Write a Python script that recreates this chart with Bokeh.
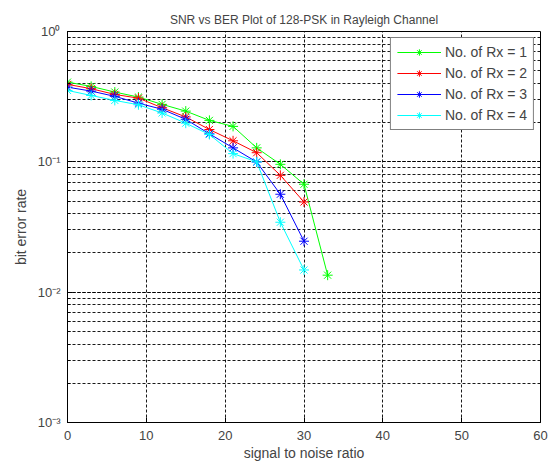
from bokeh.plotting import figure
from bokeh.models import SingleIntervalTicker, LogTicker, Legend, LegendItem, Range1d
from bokeh.embed import file_html
from bokeh.resources import INLINE

snr = [0, 3, 6, 9, 12, 15, 18, 21, 24, 27, 30, 33]
ber_rx1 = [0.409, 0.379, 0.343, 0.314, 0.276, 0.245, 0.208, 0.187, 0.128, 0.0957, 0.0673, 0.0135]
ber_rx2 = [0.393, 0.364, 0.329, 0.308, 0.260, 0.221, 0.177, 0.145, 0.1175, 0.0788, 0.0492]
ber_rx3 = [0.374, 0.349, 0.318, 0.282, 0.253, 0.212, 0.164, 0.128, 0.0997, 0.0564, 0.0246]
ber_rx4 = [0.353, 0.323, 0.296, 0.274, 0.237, 0.198, 0.162, 0.1156, 0.100, 0.0344, 0.0148]
series_labels = ["No. of Rx = 1", "No. of Rx = 2", "No. of Rx = 3", "No. of Rx = 4"]
series_colors = ["#00ff00", "#ff0000", "#0000ff", "#00ffff"]
y_tick_labels = {1: "10⁰", 0.1: "10⁻¹", 0.01: "10⁻²", 0.001: "10⁻³"}

FONT = "Liberation Sans"

p = figure(width=555, height=465, y_axis_type="log",
           x_range=Range1d(0, 60), y_range=Range1d(1e-3, 1),
           output_backend="svg", toolbar_location=None,
           title="SNR vs BER Plot of 128-PSK in Rayleigh Channel",
           min_border_left=67, min_border_right=15, min_border_top=31, min_border_bottom=43)

p.title.align = "center"
p.title.vertical_align = "top"
p.title.text_font = FONT
p.title.text_font_style = "normal"
p.title.text_font_size = "12px"
p.title.offset = 0
p.title.standoff = 6

p.outline_line_color = "black"
p.outline_line_width = 1
p.background_fill_color = "white"
p.border_fill_color = "white"

p.xaxis.ticker = SingleIntervalTicker(interval=10, num_minor_ticks=0)
p.xaxis.axis_label = "signal to noise ratio"
p.yaxis.axis_label = "bit error rate"
p.yaxis.ticker = LogTicker(desired_num_ticks=4, num_minor_ticks=10)
p.yaxis.major_label_overrides = y_tick_labels

for ax in (p.xaxis[0], p.yaxis[0]):
    ax.axis_label_text_font = FONT
    ax.axis_label_text_font_style = "normal"
    ax.axis_label_text_font_size = "14px"
    ax.major_label_text_font = FONT
    ax.major_label_text_font_size = "13px"
    ax.major_tick_in = 5
    ax.major_tick_out = 0
    ax.minor_tick_in = 3
    ax.minor_tick_out = 0
    ax.axis_line_color = "black"
    ax.major_tick_line_color = "black"
    ax.minor_tick_line_color = "black"
p.xaxis.major_label_standoff = 8
p.xaxis.axis_label_standoff = 2
p.yaxis.major_label_standoff = 7
p.yaxis.axis_label_standoff = 6

for g in (p.xgrid[0], p.ygrid[0]):
    g.grid_line_color = "black"
    g.grid_line_dash = "3 2"
    g.grid_line_width = 1
    g.grid_line_alpha = 0.9
p.ygrid[0].minor_grid_line_color = "black"
p.ygrid[0].minor_grid_line_dash = "3 2"
p.ygrid[0].minor_grid_line_alpha = 0.9

all_series = [ber_rx1, ber_rx2, ber_rx3, ber_rx4]
items = []
for ys, lab, col in zip(all_series, series_labels, series_colors):
    xs = snr[:len(ys)]
    r1 = p.line(xs, ys, line_color=col, line_width=1)
    r2 = p.scatter(xs, ys, marker="asterisk", size=10, line_color=col, line_width=1)
    items.append(LegendItem(label=lab, renderers=[r1, r2]))

legend = Legend(items=items, location="top_right")
legend.label_text_font = FONT
legend.label_text_font_size = "14px"
legend.border_line_color = "black"
legend.border_line_width = 1
legend.background_fill_alpha = 1
legend.glyph_width = 44
legend.glyph_height = 16
legend.label_height = 16
legend.spacing = 5
legend.padding = 6
legend.margin = 6
legend.label_standoff = 4
p.add_layout(legend, "center")

open("out.html", "w").write(file_html(p, INLINE))
